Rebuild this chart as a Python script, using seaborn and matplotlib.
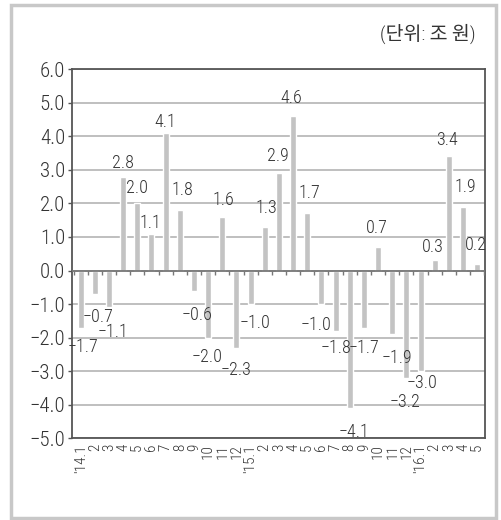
import matplotlib
matplotlib.use("Agg")
import matplotlib.pyplot as plt
import seaborn as sns
import pandas as pd
from matplotlib.patches import Rectangle

months = ["'14.1", "2", "3", "4", "5", "6", "7", "8", "9", "10", "11", "12",
          "'15.1", "2", "3", "4", "5", "6", "7", "8", "9", "10", "11", "12",
          "'16.1", "2", "3", "4", "5"]
values = [-1.7, -0.7, -1.1, 2.8, 2.0, 1.1, 4.1, 1.8, -0.6, -2.0, 1.6, -2.3,
          -1.0, 1.3, 2.9, 4.6, 1.7, -1.0, -1.8, -4.1, -1.7, 0.7, -1.9, -3.2,
          -3.0, 0.3, 3.4, 1.9, 0.2]
y_ticks = [6.0, 5.0, 4.0, 3.0, 2.0, 1.0, 0.0, -1.0, -2.0, -3.0, -4.0, -5.0]
unit_label = "(단위: 조 원)"

# value-label nudges (x in category units, y in axis units from the bar end)
label_dx = [0.2, 0.2, 0.25, 0, 0, -0.1, 0, 0.15, 0.25, -0.1, 0.1, 0, 0.3, 0.1, -0.1,
            -0.1, 0.15, -0.4, 0, 0.3, 0, -0.1, 0.3, -0.1, 0.1, -0.15, -0.1, 0.15, -0.1]
label_dy = [-0.57, -0.68, -0.72, 0.4, 0.46, 0.32, 0.33, 0.6, -0.72, -0.57, 0.5, -0.65,
            -0.57, 0.57, 0.52, 0.54, 0.6, -0.63, -0.5, -0.72, -0.6, 0.57, -0.7, -0.72,
            -0.36, 0.4, 0.5, 0.6, 0.57]

sns.set_style("white")
plt.rcParams["font.family"] = ["Roboto Condensed", "Noto Sans CJK KR", "DejaVu Sans"]
plt.rcParams["font.weight"] = "light"
plt.rcParams["axes.unicode_minus"] = True

df = pd.DataFrame({"idx": range(len(months)), "value": values})

fig = plt.figure(figsize=(5.01, 5.2), dpi=100)
ax = fig.add_axes([0.144, 0.157, 0.824, 0.710])

text_col = "#333333"
spine_col = "#555555"

# horizontal grid
for t in y_ticks:
    ax.axhline(t, color="#b4b4b4", lw=1.2, zorder=0)

sns.barplot(data=df, x="idx", y="value", color="#c3c3c3", width=0.42,
            saturation=1, ax=ax, zorder=2, native_scale=True)

# zero line with category separator ticks
ax.axhline(0, color="#777777", lw=1.3, zorder=3)
ax.vlines([i - 0.5 for i in range(len(months) + 1)], -0.13, 0,
          color="#777777", lw=1.0, zorder=3)

ax.set_xlim(-0.6, len(months) - 0.45)
ax.set_ylim(-5.0, 6.0)
ax.set_yticks(y_ticks)
ax.set_yticklabels([f"{t:.1f}".replace("-", "\u2212") for t in y_ticks],
                   fontsize=15, color=text_col)
ax.set_xticks(range(len(months)))
ax.set_xticklabels(months, rotation=90, fontsize=11, color=text_col,
                   va="top", ha="center")
ax.tick_params(axis="y", length=3, width=1, color=spine_col, pad=2, left=True)
ax.tick_params(axis="x", length=0, pad=4)
ax.set_xlabel("")
ax.set_ylabel("")

for s in ax.spines.values():
    s.set_visible(True)
    s.set_color(spine_col)
    s.set_linewidth(1.3)

# value labels: above positive bars, below negative bars
for i, v in enumerate(values):
    txt = f"{v:.1f}".replace("-", "\u2212")
    ax.text(i + label_dx[i], v + label_dy[i], txt, ha="center", va="center",
            fontsize=13, color=text_col, zorder=4)

fig.text(0.95, 0.935, unit_label, ha="right", va="center", fontsize=14,
         color=text_col)

# outer frame
fig.patches.append(Rectangle((0.022, 0.004), 0.968, 0.986, transform=fig.transFigure,
                             fill=False, edgecolor="#c8c8c8", lw=2.5))

fig.savefig("out.png", dpi=100)
